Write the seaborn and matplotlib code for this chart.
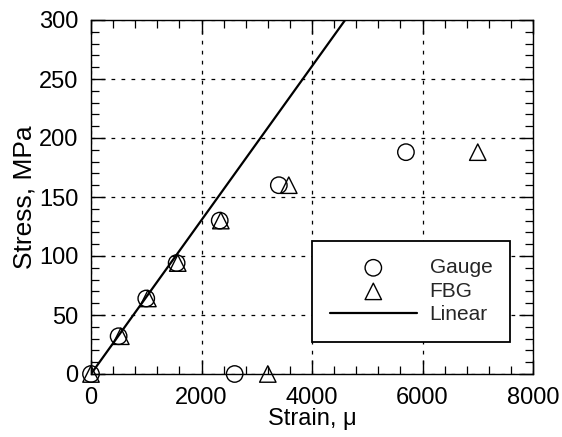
import matplotlib
matplotlib.use("Agg")
import matplotlib.pyplot as plt
import seaborn as sns
import pandas as pd
import numpy as np
from matplotlib.ticker import MultipleLocator

sns.set_theme(style="ticks")
plt.rcParams['font.family'] = ['Liberation Sans', 'DejaVu Sans']

gauge_strain = [0, 500, 1000, 1550, 2330, 3400, 5700, 2600]
gauge_stress = [0, 32, 64, 94, 130, 160, 188, 0]
fbg_strain = [0, 540, 1030, 1570, 2350, 3580, 7000, 3200]
fbg_stress = [0, 32, 64, 94, 130, 160, 188, 0]
linear_strain = [0, 4600]
linear_stress = [0, 300]

df_g = pd.DataFrame({"Strain": gauge_strain, "Stress": gauge_stress})
df_f = pd.DataFrame({"Strain": fbg_strain, "Stress": fbg_stress})
df_l = pd.DataFrame({"Strain": linear_strain, "Stress": linear_stress})

fig = plt.figure(figsize=(5.62, 4.37), dpi=100)
ax = fig.add_axes([91/562, 1 - 374/437, (533-91)/562, (374-20)/437])

sns.scatterplot(data=df_g, x="Strain", y="Stress", ax=ax, marker="o", s=140,
                facecolor="none", edgecolor="black", linewidth=1.0, label="Gauge", zorder=3,
                clip_on=False)
sns.scatterplot(data=df_f, x="Strain", y="Stress", ax=ax, marker="^", s=140,
                facecolor="none", edgecolor="black", linewidth=1.0, label="FBG", zorder=3,
                clip_on=False)
sns.lineplot(data=df_l, x="Strain", y="Stress", ax=ax, color="black", linewidth=1.6,
             label="Linear", zorder=2)

ax.set_xlim(0, 8000)
ax.set_ylim(0, 300)
ax.xaxis.set_major_locator(MultipleLocator(2000))
ax.xaxis.set_minor_locator(MultipleLocator(400))
ax.yaxis.set_major_locator(MultipleLocator(50))
ax.yaxis.set_minor_locator(MultipleLocator(10))
ax.tick_params(which="both", direction="in", top=True, right=True, color="black")
ax.tick_params(which="major", length=10, width=1.0, labelsize=17, colors="black")
ax.tick_params(axis="x", which="major", pad=9)
ax.tick_params(axis="y", which="major", pad=9)
ax.tick_params(which="minor", length=6, width=0.9)
ax.grid(True, which="major", linestyle=(0, (3, 5)), color="black", linewidth=0.9)
for sp in ax.spines.values():
    sp.set_color("black")
    sp.set_linewidth(1.0)
ax.set_xlabel("Strain, μ", fontsize=17, color="black", labelpad=0)
ax.set_ylabel("Stress, MPa", fontsize=19, color="black", labelpad=2)

leg = ax.legend(loc="lower right", bbox_to_anchor=(0.948, 0.09), borderaxespad=0,
                frameon=True, fancybox=False,
                edgecolor="black", framealpha=1, fontsize=15, handlelength=4.2,
                borderpad=0.85, labelspacing=0.22, handletextpad=0.6, markerfirst=True)
leg.get_frame().set_linewidth(1.3)

fig.savefig("out.png", dpi=100)
